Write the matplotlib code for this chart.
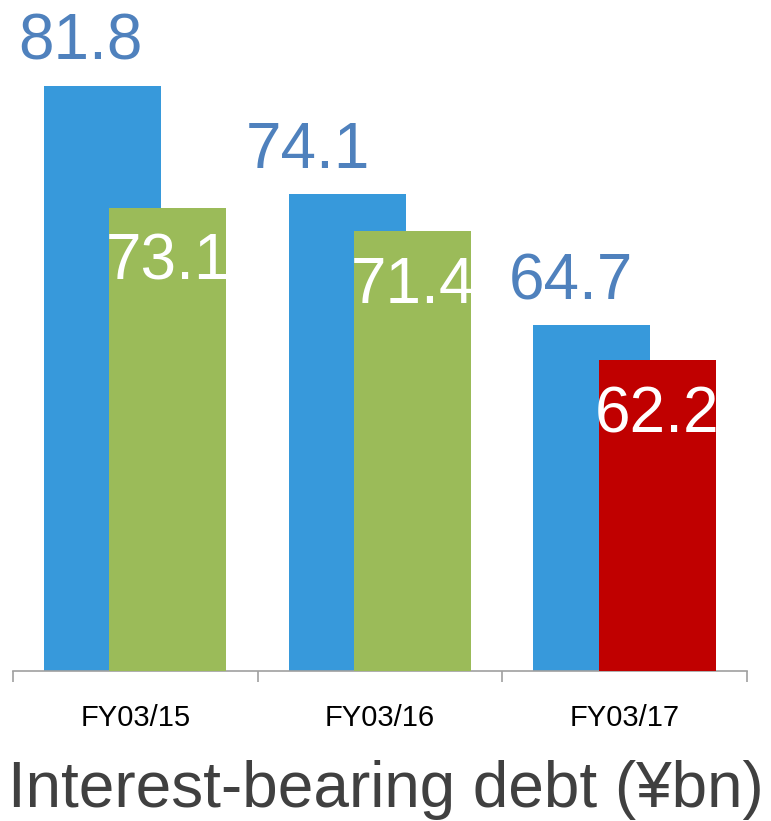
import matplotlib
matplotlib.use("Agg")
import matplotlib.pyplot as plt
import numpy as np
from matplotlib import font_manager

# data
years = ["FY03/15", "FY03/16", "FY03/17"]
start_values = [81.8, 74.1, 64.7]
end_values = [73.1, 71.4, 62.2]
end_colors = ["#9BBB59", "#9BBB59", "#C00000"]

names = {f.name for f in font_manager.fontManager.ttflist}
narrow = "Liberation Sans Narrow" if "Liberation Sans Narrow" in names else "Liberation Sans"

fig = plt.figure(figsize=(7.71, 8.21), dpi=100)
ax = fig.add_axes([0.0169, 0.1827, 0.9521, 0.8173])

x = np.arange(len(years))
w = 0.478
ax.bar(x - 0.134, start_values, width=w, color="#3799DB", zorder=2)
ax.bar(x + 0.133, end_values, width=w, color=end_colors, zorder=3)

ax.set_xlim(-0.5, 2.5)
ax.set_ylim(40, 87.93)

# value labels
blue_dx = [-0.09, -0.16, -0.085]
for i, v in enumerate(start_values):
    ax.annotate(f"{v:.1f}", (x[i] - 0.134 + blue_dx[i], v), xytext=(0, 31),
                textcoords="offset points", ha="center", va="center",
                fontsize=46, color="#4F81BD", family="Liberation Sans", zorder=4)
for i, v in enumerate(end_values):
    ax.annotate(f"{v:.1f}", (x[i] + 0.133, v), xytext=(0, -39.5),
                textcoords="offset points", ha="center", va="center",
                fontsize=46, color="white", family="Liberation Sans", zorder=4)

for s in ["top", "right", "left"]:
    ax.spines[s].set_visible(False)
ax.spines["bottom"].set_color("#A0A0A0")
ax.spines["bottom"].set_linewidth(1.2)
ax.set_yticks([])

ax.set_xticks(x)
ax.set_xticklabels(years, fontsize=21, family=narrow, color="black")
ax.tick_params(axis="x", which="major", length=0, pad=24)
ax.set_xticks([-0.5, 0.5, 1.5, 2.5], minor=True)
ax.tick_params(axis="x", which="minor", length=8, width=1.2, color="#A0A0A0")

fig.text(0.5, 1 - 790 / 821, "Interest-bearing debt (\u00a5bn)", ha="center", va="center",
         fontsize=46, color="#404040", family="Liberation Sans")

fig.savefig("out.png", dpi=100)
